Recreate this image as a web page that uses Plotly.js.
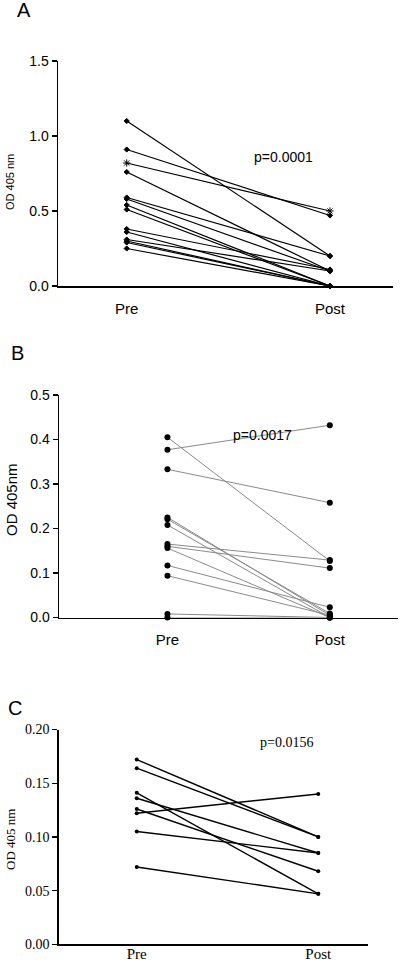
<!DOCTYPE html>
<html>
<head>
<meta charset="utf-8">
<script src="https://cdn.plot.ly/plotly-3.0.1.min.js"></script>
<style>html,body{margin:0;padding:0;background:#fff;}#chart{width:400px;height:962px;}</style>
</head>
<body>
<div id="chart"></div>
<script>
// Data
var groups = ["Pre", "Post"];
var preA  = [1.10, 0.91, 0.82, 0.76, 0.59, 0.58, 0.54, 0.51, 0.38, 0.36, 0.31, 0.30, 0.29, 0.25];
var postA = [0.20, 0.47, 0.50, 0.10, 0.20, 0.10, 0.00, 0.00, 0.11, 0.00, 0.10, 0.00, 0.00, 0.00];
var preB  = [0.405, 0.377, 0.333, 0.225, 0.221, 0.208, 0.165, 0.160, 0.156, 0.117, 0.094, 0.008, 0.000];
var postB = [0.127, 0.432, 0.258, 0.005, 0.009, 0.000, 0.129, 0.111, 0.000, 0.023, 0.005, 0.000, 0.000];
var preC  = [0.172, 0.164, 0.141, 0.136, 0.126, 0.122, 0.105, 0.072];
var postC = [0.100, 0.100, 0.047, 0.085, 0.068, 0.140, 0.085, 0.047];
var yTicksA = [0, 0.5, 1.0, 1.5], yTickTextA = ["0.0", "0.5", "1.0", "1.5"];
var yTicksB = [0, 0.1, 0.2, 0.3, 0.4, 0.5], yTickTextB = ["0.0", "0.1", "0.2", "0.3", "0.4", "0.5"];
var yTicksC = [0, 0.05, 0.10, 0.15, 0.20], yTickTextC = ["0.00", "0.05", "0.10", "0.15", "0.20"];
var pA = "p=0.0001", pB = "p=0.0017", pC = "p=0.0156";

var W = 400, H = 962;
function px(x) { return x / W; }
function py(y) { return 1 - y / H; }

var traces = [];
for (var i = 0; i < preA.length; i++) {
  traces.push({x: groups, y: [preA[i], postA[i]], xaxis: 'x', yaxis: 'y', type: 'scatter', mode: 'lines+markers',
    line: {color: '#000', width: 1.2}, marker: {color: '#000', size: (i === 2 ? 6 : 4), symbol: (i === 2 ? 'asterisk-open' : 'diamond'), line: {color: '#000', width: 1}},
    showlegend: false, hoverinfo: 'skip'});
}
for (var j = 0; j < preB.length; j++) {
  traces.push({x: groups, y: [preB[j], postB[j]], xaxis: 'x2', yaxis: 'y2', type: 'scatter', mode: 'lines+markers',
    line: {color: '#8a8a8a', width: 1}, marker: {color: '#000', size: 6, symbol: 'circle'},
    showlegend: false, hoverinfo: 'skip'});
}
for (var k = 0; k < preC.length; k++) {
  traces.push({x: groups, y: [preC[k], postC[k]], xaxis: 'x3', yaxis: 'y3', type: 'scatter', mode: 'lines+markers',
    line: {color: '#000', width: 1.4}, marker: {color: '#000', size: 4, symbol: 'circle'},
    showlegend: false, hoverinfo: 'skip'});
}
for (var t = 0; t < traces.length; t++) traces[t].cliponaxis = false;

var sans = 'Liberation Sans, Arial, sans-serif';
var serif = 'Liberation Serif, Times New Roman, serif';

function xax(dom, rng, fam, size, anchor, standoff) {
  return {domain: dom, range: rng, type: 'category', categoryorder: 'array', categoryarray: groups,
    showline: true, linecolor: '#000', linewidth: 1.5, ticks: '', showgrid: false, zeroline: false,
    tickfont: {family: fam, size: size, color: '#000'}, ticklabelstandoff: standoff, anchor: anchor, fixedrange: true};
}
function yax(dom, rng, vals, txt, fam, size, anchor) {
  return {domain: dom, range: rng, tickvals: vals, ticktext: txt, showline: true, linecolor: '#000', linewidth: 1.5,
    ticks: 'outside', ticklen: 5, tickwidth: 1.2, tickcolor: '#000', showgrid: false, zeroline: false,
    tickfont: {family: fam, size: size, color: '#000'}, anchor: anchor, fixedrange: true};
}
function ann(text, x, y, fam, size, angle) {
  return {text: text, x: px(x), y: py(y), xref: 'paper', yref: 'paper', xanchor: 'center', yanchor: 'middle',
    showarrow: false, textangle: angle || 0, font: {family: fam, size: size, color: '#000'}};
}

var layout = {
  width: W, height: H, margin: {l: 0, r: 0, t: 0, b: 0}, paper_bgcolor: '#fff', plot_bgcolor: 'rgba(0,0,0,0)',
  showlegend: false,
  xaxis:  xax([px(58), px(393)], [-0.338, 1.310], sans, 15, 'y', 8),
  yaxis:  yax([py(286), py(61)], [0, 1.5], yTicksA, yTickTextA, sans, 14, 'x'),
  xaxis2: xax([px(59), px(398)], [-0.668, 1.420], sans, 15, 'y2', 8),
  yaxis2: yax([py(617.5), py(395)], [0, 0.5], yTicksB, yTickTextB, sans, 14, 'x2'),
  xaxis3: xax([px(58.7), px(368)], [-0.430, 1.274], serif, 15, 'y3', -5),
  yaxis3: yax([py(944.3), py(729.5)], [0, 0.2], yTicksC, yTickTextC, serif, 14, 'x3'),
  annotations: [
    ann('A', 24, 10, sans, 20),
    ann('B', 17, 353, sans, 20),
    ann('C', 15, 708, sans, 20),
    ann(pA, 283, 157, sans, 14),
    ann(pB, 262, 435, sans, 14),
    ann(pC, 286, 742, serif, 14),
    ann('OD 405 nm', 10, 182, sans, 11, -90),
    ann('OD 405nm', 11, 500, sans, 15, -90),
    ann('OD 405 nm', 10, 840, serif, 13, -90)
  ]
};

Plotly.newPlot('chart', traces, layout, {displayModeBar: false, staticPlot: true});
</script>
</body>
</html>
